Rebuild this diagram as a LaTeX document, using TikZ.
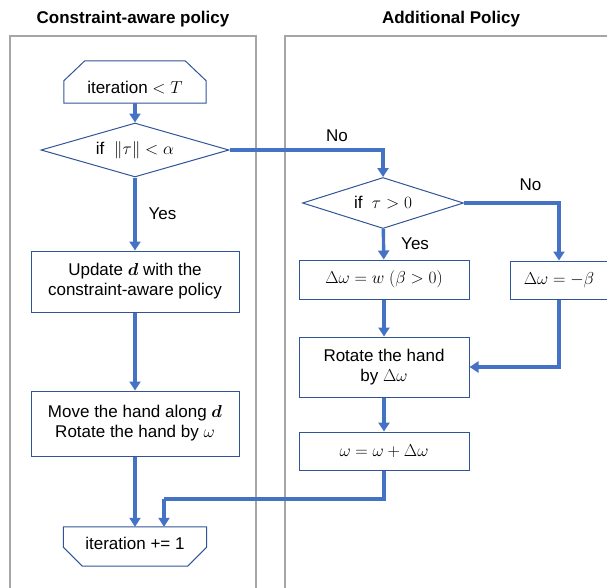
\documentclass[tikz,border=0pt]{standalone}
\usepackage{amsmath}
\usepackage{amssymb}
\usepackage{bm}
\usepackage[no-math]{fontspec}
\setmainfont{Liberation Sans}
\usepackage{xcolor}
\usetikzlibrary{shapes.geometric,arrows.meta}
\definecolor{flowblue}{RGB}{68,114,196}
\definecolor{edgeblue}{RGB}{47,85,151}
\definecolor{lanegray}{RGB}{166,166,166}
\tikzset{
	txt/.style={font=\fontsize{17}{20}\selectfont, align=center, inner sep=0pt},
	procbox/.style={txt, draw=edgeblue, line width=1pt, rectangle},
	decision/.style={txt, draw=edgeblue, line width=1pt, diamond, aspect=3.3},
	loopbox/.style={txt, rectangle},
	flow/.style={draw=flowblue, line width=3.4pt, -{Triangle[width=11pt,length=9pt]}},
	flowline/.style={draw=flowblue, line width=3.4pt},
	lane/.style={draw=lanegray, line width=1.3pt},
	title/.style={font=\fontsize{17}{20}\selectfont\bfseries, inner sep=0pt}
}
\begin{document}
\begin{tikzpicture}[x=1pt,y=-1pt]
	\useasboundingbox (0,0) rectangle (607,587);
	\clip (0,0) rectangle (607,587);
	% lanes
	\draw [lane] (10,600) -- (10,36) -- (256,36) -- (256,600);
	\draw [lane] (285,600) -- (285,36) -- (620,36);
	\node [title] (ltitle) at (133,19) {Constraint-aware policy};
	\node [title] (rtitle) at (451,19) {Additional Policy};
	% left column
	\node [loopbox, minimum width=142pt, minimum height=42pt] (start) at (135,82) {\raisebox{-6pt}[\height][\depth]{iteration $<T$}};
	\draw [draw=edgeblue, line width=1pt] ([yshift=-20pt]start.north west) -- ([xshift=21pt]start.north west) -- ([xshift=-21pt]start.north east) -- ([yshift=-20pt]start.north east) -- (start.south east) -- (start.south west) -- cycle;
	\node [decision, minimum width=188pt, minimum height=54pt] (normchk) at (135,150) {if \ $\|\tau\|<\alpha$};
	\node [procbox, minimum width=208pt, minimum height=61pt] (update) at (135,281.5) {Update $\bm{d}$ with the\\constraint-aware policy};
	\node [procbox, minimum width=208pt, minimum height=65pt] (move) at (135,423.5) {Move the hand along $\bm{d}$\\Rotate the hand by $\omega$};
	\node [loopbox, minimum width=143pt, minimum height=39pt] (incr) at (135,546.5) {\raisebox{3pt}[\height][\depth]{iteration += 1}};
	\draw [draw=edgeblue, line width=1pt] (incr.north west) -- (incr.north east) -- ([yshift=19pt]incr.south east) -- ([xshift=-19pt]incr.south east) -- ([xshift=19pt]incr.south west) -- ([yshift=19pt]incr.south west) -- cycle;
	% right column
	\node [decision, minimum width=161pt, minimum height=51pt] (signchk) at (383,203) {if \ $\tau>0$};
	\node [procbox, minimum width=170pt, minimum height=39pt] (posstep) at (384,279.5) {$\Delta\omega = w\ (\beta>0)$};
	\node [procbox, minimum width=98pt, minimum height=38pt] (negstep) at (559,280) {$\Delta\omega = -\beta$};
	\node [procbox, minimum width=170pt, minimum height=60pt] (rotate) at (384,367) {Rotate the hand\\by $\Delta\omega$};
	\node [procbox, minimum width=170pt, minimum height=38pt] (accum) at (384,451) {$\omega = \omega + \Delta\omega$};
	\coordinate (join) at (164,499);
	% connectors
	\draw [flow] (start) -- (normchk);
	\draw [flow] (normchk.east) -| (signchk.north) node [txt, pos=0.35, above=7pt] {No};
	\draw [flow] (normchk) -- (update) node [txt, midway, right=12pt] {Yes};
	\draw [flow] (update) -- (move);
	\draw [flow] (move) -- (incr);
	\draw [flow] (signchk.east) -| (negstep.north) node [txt, pos=0.35, above=11pt] {No};
	\draw [flow] (signchk) -- (posstep) node [txt, midway, right=16pt] {Yes};
	\draw [flow] (posstep) -- (rotate);
	\draw [flow] (negstep.south) |- (rotate.east);
	\draw [flow] (rotate) -- (accum);
	\draw [flowline] (accum.south) |- (join);
	\draw [flow] (join) -- (join |- incr.north);
\end{tikzpicture}
\end{document}
